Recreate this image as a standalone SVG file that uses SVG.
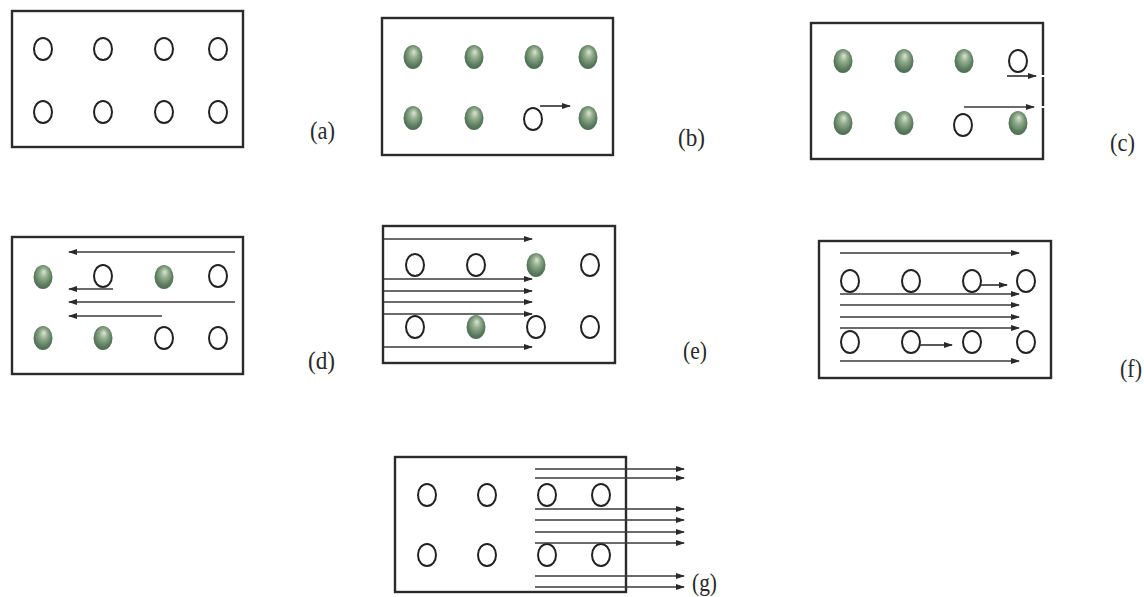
<svg xmlns="http://www.w3.org/2000/svg" width="1144" height="597" viewBox="0 0 1144 597">
  <defs>
    <radialGradient id="bead" cx="50%" cy="45%" r="60%" fx="55%" fy="28%">
      <stop offset="0" stop-color="#dbe6d4"/>
      <stop offset="0.35" stop-color="#93ad8d"/>
      <stop offset="0.75" stop-color="#5a7b5e"/>
      <stop offset="1" stop-color="#48674d"/>
    </radialGradient>
    <marker id="head" markerUnits="userSpaceOnUse" markerWidth="9" markerHeight="7" refX="8" refY="3.5" orient="auto">
      <path d="M0,0.5 L9,3.5 L0,6.5 z" fill="#2a2a2a"/>
    </marker>
    <style>
      .box { fill: none; stroke: #2b2b2b; stroke-width: 2.4; }
      .hole { fill: #fff; stroke: #222; stroke-width: 2; }
      .atom { fill: url(#bead); }
      .flow { stroke: #3a3a3a; stroke-width: 1.7; fill: none; marker-end: url(#head); }
      .lbl { font-family: "Liberation Serif", "Times New Roman", serif; font-size: 26px; fill: #2a2a2a; }
    </style>
  </defs>

  <rect width="1144" height="597" fill="#fff"/>

  <!-- (a) all sites empty -->
  <g id="panel-a">
    <rect class="box" x="12" y="11" width="231" height="136"/>
    <ellipse class="hole" cx="43" cy="49" rx="9" ry="11"/>
    <ellipse class="hole" cx="103" cy="49" rx="9" ry="11"/>
    <ellipse class="hole" cx="164" cy="49" rx="9" ry="11"/>
    <ellipse class="hole" cx="218" cy="49" rx="9" ry="11"/>
    <ellipse class="hole" cx="43" cy="112" rx="9" ry="11"/>
    <ellipse class="hole" cx="103" cy="112" rx="9" ry="11"/>
    <ellipse class="hole" cx="164" cy="112" rx="9" ry="11"/>
    <ellipse class="hole" cx="218" cy="112" rx="9" ry="11"/>
    <text class="lbl" x="310" y="139" textLength="25" lengthAdjust="spacingAndGlyphs">(a)</text>
  </g>

  <!-- (b) filled lattice with one vacancy -->
  <g id="panel-b">
    <rect class="box" x="382" y="18" width="231" height="137"/>
    <ellipse class="atom" cx="413" cy="57" rx="9.5" ry="12"/>
    <ellipse class="atom" cx="474" cy="57" rx="9.5" ry="12"/>
    <ellipse class="atom" cx="534" cy="57" rx="9.5" ry="12"/>
    <ellipse class="atom" cx="588" cy="57" rx="9.5" ry="12"/>
    <ellipse class="atom" cx="413" cy="118" rx="9.5" ry="12"/>
    <ellipse class="atom" cx="474" cy="118" rx="9.5" ry="12"/>
    <ellipse class="hole" cx="533" cy="119" rx="9" ry="11"/>
    <ellipse class="atom" cx="588" cy="118" rx="9.5" ry="12"/>
    <text class="lbl" x="678" y="146" textLength="27" lengthAdjust="spacingAndGlyphs">(b)</text>
  </g>

  <!-- (c) two vacancies -->
  <g id="panel-c">
    <rect class="box" x="811" y="23" width="232" height="136"/>
    <ellipse class="atom" cx="843" cy="61" rx="9.5" ry="12"/>
    <ellipse class="atom" cx="904" cy="61" rx="9.5" ry="12"/>
    <ellipse class="atom" cx="964" cy="61" rx="9.5" ry="12"/>
    <ellipse class="hole" cx="1018" cy="61" rx="9" ry="11"/>
    <ellipse class="atom" cx="843" cy="123" rx="9.5" ry="12"/>
    <ellipse class="atom" cx="904" cy="123" rx="9.5" ry="12"/>
    <ellipse class="hole" cx="963" cy="125" rx="9" ry="11"/>
    <ellipse class="atom" cx="1018" cy="123" rx="9.5" ry="12"/>
    <rect x="1041" y="75" width="4" height="2" fill="#fff"/>
    <rect x="1041" y="106" width="4" height="2" fill="#fff"/>
    <text class="lbl" x="1110" y="151" textLength="25" lengthAdjust="spacingAndGlyphs">(c)</text>
  </g>

  <!-- (d) mixed occupancy -->
  <g id="panel-d">
    <rect class="box" x="12" y="237" width="231" height="137"/>
    <ellipse class="atom" cx="43" cy="277" rx="9.5" ry="12"/>
    <ellipse class="hole" cx="103" cy="276" rx="9" ry="11"/>
    <ellipse class="atom" cx="164" cy="277" rx="9.5" ry="12"/>
    <ellipse class="hole" cx="218" cy="276" rx="9" ry="11"/>
    <ellipse class="atom" cx="43" cy="338" rx="9.5" ry="12"/>
    <ellipse class="atom" cx="103" cy="338" rx="9.5" ry="12"/>
    <ellipse class="hole" cx="164" cy="338" rx="9" ry="11"/>
    <ellipse class="hole" cx="218" cy="338" rx="9" ry="11"/>
    <text class="lbl" x="308" y="369" textLength="27" lengthAdjust="spacingAndGlyphs">(d)</text>
  </g>

  <!-- (e) -->
  <g id="panel-e">
    <rect class="box" x="383" y="226" width="232" height="137"/>
    <ellipse class="hole" cx="415" cy="265" rx="9" ry="11"/>
    <ellipse class="hole" cx="476" cy="265" rx="9" ry="11"/>
    <ellipse class="atom" cx="536" cy="265" rx="9.5" ry="12"/>
    <ellipse class="hole" cx="590" cy="265" rx="9" ry="11"/>
    <ellipse class="hole" cx="415" cy="327" rx="9" ry="11"/>
    <ellipse class="atom" cx="476" cy="327" rx="9.5" ry="12"/>
    <ellipse class="hole" cx="536" cy="327" rx="9" ry="11"/>
    <ellipse class="hole" cx="590" cy="327" rx="9" ry="11"/>
    <text class="lbl" x="683" y="359" textLength="24" lengthAdjust="spacingAndGlyphs">(e)</text>
  </g>

  <!-- (f) all empty -->
  <g id="panel-f">
    <rect class="box" x="819" y="241" width="232" height="137"/>
    <ellipse class="hole" cx="850" cy="281" rx="9" ry="11"/>
    <ellipse class="hole" cx="911" cy="281" rx="9" ry="11"/>
    <ellipse class="hole" cx="972" cy="281" rx="9" ry="11"/>
    <ellipse class="hole" cx="1026" cy="281" rx="9" ry="11"/>
    <ellipse class="hole" cx="850" cy="342" rx="9" ry="11"/>
    <ellipse class="hole" cx="911" cy="342" rx="9" ry="11"/>
    <ellipse class="hole" cx="972" cy="342" rx="9" ry="11"/>
    <ellipse class="hole" cx="1026" cy="342" rx="9" ry="11"/>
    <text class="lbl" x="1120" y="377" textLength="22" lengthAdjust="spacingAndGlyphs">(f)</text>
  </g>

  <!-- (g) all empty, flow leaving -->
  <g id="panel-g">
    <rect class="box" x="395" y="457" width="231" height="135"/>
    <ellipse class="hole" cx="427" cy="495" rx="9" ry="11"/>
    <ellipse class="hole" cx="487" cy="495" rx="9" ry="11"/>
    <ellipse class="hole" cx="547" cy="495" rx="9" ry="11"/>
    <ellipse class="hole" cx="601" cy="495" rx="9" ry="11"/>
    <ellipse class="hole" cx="427" cy="555" rx="9" ry="11"/>
    <ellipse class="hole" cx="487" cy="555" rx="9" ry="11"/>
    <ellipse class="hole" cx="547" cy="555" rx="9" ry="11"/>
    <ellipse class="hole" cx="601" cy="555" rx="9" ry="11"/>
    <text class="lbl" x="692" y="591" textLength="25" lengthAdjust="spacingAndGlyphs">(g)</text>
  </g>

  <g id="connectors">
    <!-- (b) -->
    <line class="flow" x1="540" y1="106" x2="570" y2="106"/>
    <!-- (c) -->
    <line class="flow" x1="1007" y1="76" x2="1036" y2="76"/>
    <line class="flow" x1="964" y1="107" x2="1034" y2="107"/>
    <!-- (d) leftward -->
    <line class="flow" x1="235" y1="252" x2="69" y2="252"/>
    <line class="flow" x1="113" y1="289" x2="69" y2="289"/>
    <line class="flow" x1="235" y1="302" x2="69" y2="302"/>
    <line class="flow" x1="162" y1="316" x2="69" y2="316"/>
    <!-- (e) -->
    <line class="flow" x1="384" y1="239" x2="532" y2="239"/>
    <line class="flow" x1="384" y1="279" x2="532" y2="279"/>
    <line class="flow" x1="384" y1="291" x2="532" y2="291"/>
    <line class="flow" x1="384" y1="302" x2="532" y2="302"/>
    <line class="flow" x1="384" y1="314" x2="532" y2="314"/>
    <line class="flow" x1="384" y1="347" x2="532" y2="347"/>
    <!-- (f) -->
    <line class="flow" x1="840" y1="253" x2="1019" y2="253"/>
    <line class="flow" x1="840" y1="294" x2="1019" y2="294"/>
    <line class="flow" x1="840" y1="305" x2="1019" y2="305"/>
    <line class="flow" x1="840" y1="317" x2="1019" y2="317"/>
    <line class="flow" x1="840" y1="328" x2="1019" y2="328"/>
    <line class="flow" x1="840" y1="361" x2="1019" y2="361"/>
    <line class="flow" x1="981" y1="285" x2="1007" y2="285"/>
    <line class="flow" x1="920" y1="345" x2="952" y2="345"/>
    <!-- (g) -->
    <line class="flow" x1="535" y1="469" x2="684" y2="469"/>
    <line class="flow" x1="535" y1="478" x2="684" y2="478"/>
    <line class="flow" x1="535" y1="509" x2="684" y2="509"/>
    <line class="flow" x1="535" y1="520" x2="684" y2="520"/>
    <line class="flow" x1="535" y1="532" x2="684" y2="532"/>
    <line class="flow" x1="535" y1="543" x2="684" y2="543"/>
    <line class="flow" x1="535" y1="576" x2="684" y2="576"/>
    <line class="flow" x1="535" y1="587" x2="684" y2="587"/>
  </g>
</svg>
